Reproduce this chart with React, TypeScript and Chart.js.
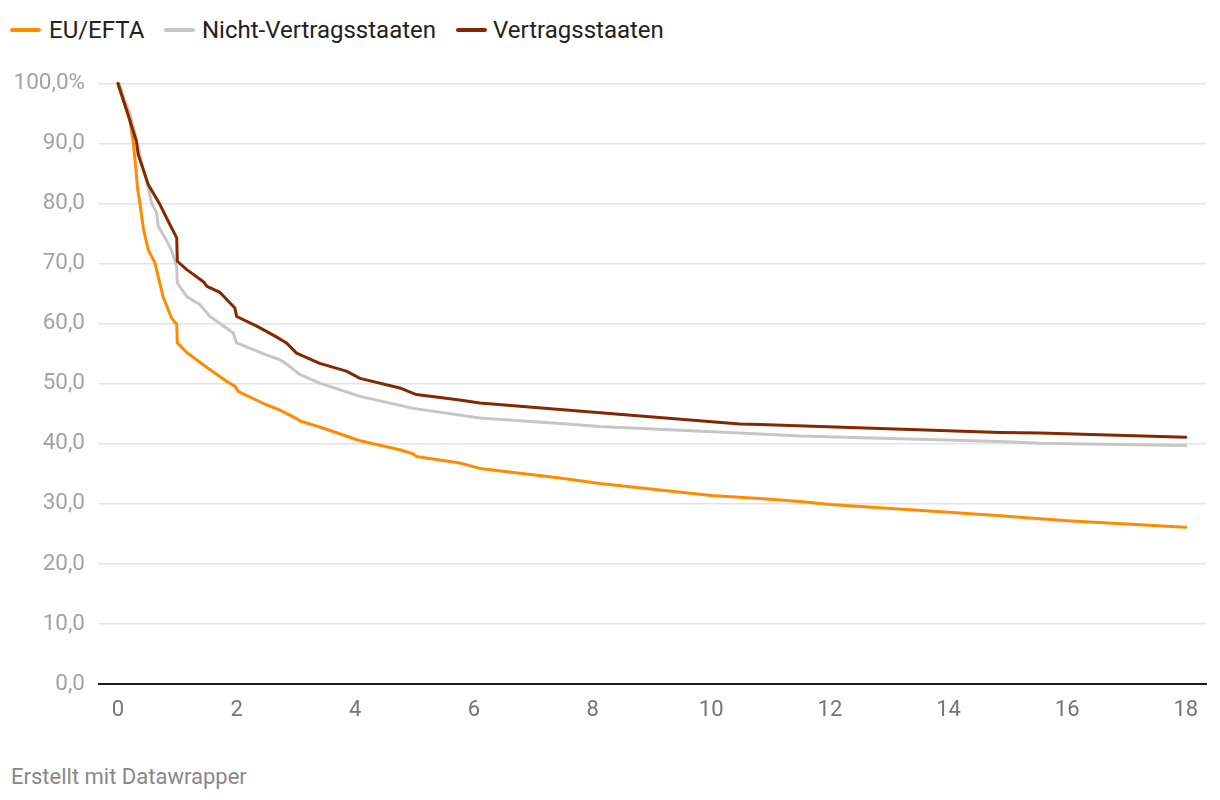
import React, { useEffect, useRef } from "react";
import { Chart, registerables } from "chart.js";

Chart.register(...registerables);

// Survival share (%) by years since entry
const euX = [0, 0.1, 0.2, 0.26, 0.3, 0.33, 0.37, 0.43, 0.51, 0.62, 0.76, 0.9, 0.96, 0.99, 1.0, 1.16, 1.5, 1.83, 1.97, 2.03, 2.5, 2.73, 3.01, 3.07, 3.4, 3.85, 4.08, 4.75, 4.98, 5.03, 5.76, 6.1, 7.45, 8.12, 10.0, 10.82, 11.5, 12, 14, 14.87, 15.54, 16, 18];
const euY = [100, 97, 94, 90, 86, 82.5, 80, 75.7, 72.3, 70.2, 64.5, 61, 60.2, 60, 56.8, 55.2, 52.7, 50.4, 49.6, 48.7, 46.5, 45.6, 44.2, 43.8, 42.8, 41.3, 40.5, 39, 38.3, 37.9, 36.8, 35.9, 34.3, 33.4, 31.4, 30.9, 30.4, 29.9, 28.6, 28.0, 27.5, 27.2, 26.1];

const nvX = [0.02, 0.1, 0.2, 0.28, 0.34, 0.42, 0.5, 0.57, 0.65, 0.68, 0.8, 0.9, 0.99, 1.0, 1.16, 1.38, 1.55, 1.94, 2.0, 2.5, 2.73, 2.84, 3.07, 3.4, 4.08, 4.98, 6.1, 7.45, 8.12, 10.48, 11.5, 14.87, 15.54, 18];
const nvY = [100, 97.5, 95, 92, 89.5, 86, 83, 80, 78.5, 76.2, 74.2, 72.3, 69.5, 66.8, 64.5, 63.2, 61.2, 58.5, 56.8, 54.8, 54, 53.3, 51.5, 50.1, 47.9, 45.9, 44.3, 43.4, 42.9, 41.8, 41.3, 40.4, 40.1, 39.7];

const vX = [0, 0.15, 0.31, 0.34, 0.51, 0.71, 0.85, 0.99, 1.0, 1.16, 1.44, 1.5, 1.72, 1.97, 2.0, 2.34, 2.67, 2.84, 3.01, 3.4, 3.85, 4.08, 4.75, 5.03, 5.76, 6.1, 7.45, 10.48, 10.82, 14.87, 15.54, 18];
const vY = [100, 95.4, 90.4, 88.2, 83.2, 79.8, 77, 74.3, 70.4, 69, 67, 66.2, 65.2, 62.6, 61.2, 59.6, 57.8, 56.8, 55.1, 53.4, 52.1, 50.9, 49.3, 48.2, 47.3, 46.8, 45.7, 43.3, 43.2, 41.9, 41.8, 41.1];

const xTicks = [0, 2, 4, 6, 8, 10, 12, 14, 16, 18];
const yTicks = [0, 10, 20, 30, 40, 50, 60, 70, 80, 90, 100];

const seriesNames = ["EU/EFTA", "Nicht-Vertragsstaaten", "Vertragsstaaten"];
const seriesColors = ["#ff8c00", "#c6c6c6", "#832800"];

const toPoints = (xs: number[], ys: number[]) => xs.map((x, i) => ({ x, y: ys[i] }));

export default function App() {
  const ref = useRef<HTMLCanvasElement | null>(null);

  useEffect(() => {
    if (!ref.current) return;
    const common = {
      showLine: true,
      pointRadius: 0,
      pointHoverRadius: 0,
      borderWidth: 3,
      borderCapStyle: "round" as const,
      borderJoinStyle: "round" as const,
      tension: 0,
      fill: false,
      clip: false as const,
    };
    const chart = new Chart(ref.current, {
      type: "scatter",
      data: {
        datasets: [
          { ...common, label: seriesNames[0], data: toPoints(euX, euY), borderColor: seriesColors[0], backgroundColor: seriesColors[0], order: 1 },
          { ...common, label: seriesNames[1], data: toPoints(nvX, nvY), borderColor: seriesColors[1], backgroundColor: seriesColors[1], order: 2 },
          { ...common, label: seriesNames[2], data: toPoints(vX, vY), borderColor: seriesColors[2], backgroundColor: seriesColors[2], order: 0 },
        ],
      },
      options: {
        responsive: false,
        animation: false,
        layout: { padding: { top: 0, right: 6, left: 0, bottom: 0 } },
        plugins: { legend: { display: false }, tooltip: { enabled: false } },
        scales: {
          x: {
            type: "linear",
            min: -0.32,
            max: 18.34,
            afterBuildTicks: (s: any) => {
              s.ticks = xTicks.map((v) => ({ value: v }));
            },
            afterFit: (s: any) => {
              s.height = 56;
            },
            grid: { display: false, drawTicks: false },
            border: { display: true, color: "#1d1d1d", width: 2 },
            ticks: {
              padding: 13,
              color: "#757575",
              font: { family: "Roboto", size: 22 },
              maxRotation: 0,
              autoSkip: false,
              callback: (v: any) => String(v),
            },
          },
          y: {
            type: "linear",
            min: 0,
            max: 100,
            afterBuildTicks: (s: any) => {
              s.ticks = yTicks.map((v) => ({ value: v }));
            },
            afterFit: (s: any) => {
              s.width = 91;
            },
            grid: { color: "#e3e3e3", lineWidth: 1.5, drawTicks: false },
            border: { display: false },
            ticks: {
              padding: 14,
              color: "#a3a3a3",
              font: { family: "Roboto", size: 22.5 },
              callback: (v: any) => (v === 100 ? "100,0%" : Number(v).toFixed(1).replace(".", ",")),
            },
          },
        },
      },
    });
    return () => chart.destroy();
  }, []);

  const legendPos = [
    { line: 2, text: 41 },
    { line: 156, text: 194 },
    { line: 448, text: 485 },
  ];

  return (
    <div style={{ position: "relative", width: 1204, height: 784, fontFamily: "Roboto" }}>
      {seriesNames.map((n, i) => (
        <div key={n}>
          <div
            style={{
              position: "absolute",
              left: legendPos[i].line,
              top: 20,
              width: 31,
              height: 4,
              borderRadius: 2,
              background: seriesColors[i],
            }}
          />
          <div
            style={{
              position: "absolute",
              left: legendPos[i].text,
              top: 8,
              fontSize: 24,
              lineHeight: "28px",
              color: "#222",
              whiteSpace: "nowrap",
            }}
          >
            {n}
          </div>
        </div>
      ))}
      <canvas
        ref={ref}
        width={1204}
        height={684}
        style={{ position: "absolute", left: 0, top: 48, width: 1204, height: 684 }}
      />
      <div
        style={{
          position: "absolute",
          left: 3,
          top: 757,
          fontSize: 22,
          lineHeight: "24px",
          color: "#888",
          whiteSpace: "nowrap",
        }}
      >
        Erstellt mit Datawrapper
      </div>
    </div>
  );
}
